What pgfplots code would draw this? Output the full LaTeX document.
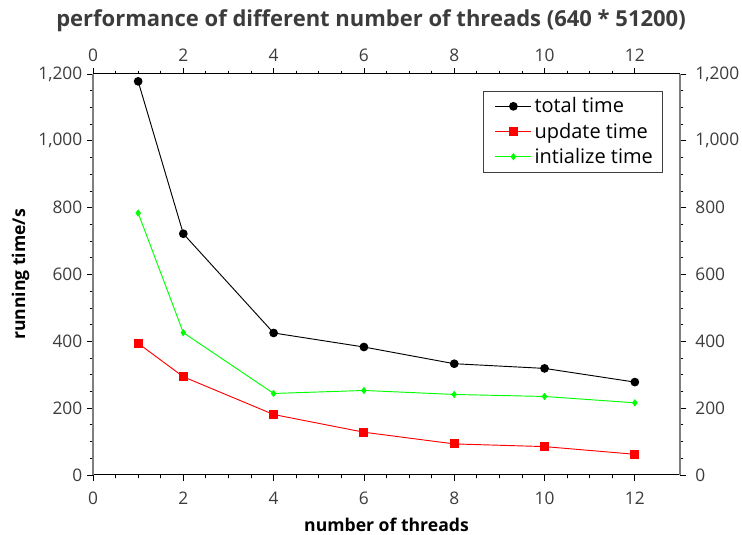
\documentclass[border=0pt]{standalone}
\usepackage{fontspec}
\setmainfont{Open Sans}
\usepackage{pgfplots}
\pgfplotsset{compat=1.18}
\definecolor{labelgray}{HTML}{3C3C3C}
\definecolor{framegray}{HTML}{7F7F7F}

\pgfplotsset{
  threadframe/.style={
    scale only axis, width=440.25pt, height=300.75pt,
    xmin=0, xmax=13, ymin=0, ymax=1200,
    xtick={0,2,...,12}, ytick={0,200,...,1200},
    minor x tick num=3, minor y tick num=3,
    tick align=outside, tick pos=both,
    major tick length=4.5pt, minor tick length=2.5pt,
    every tick/.style={black, line width=0.6pt},
    separate axis lines,
    x axis line style={black, line width=0.75pt},
    y axis line style={framegray, line width=1.5pt},
    /pgf/number format/.cd, 1000 sep={,}, assume math mode=true,
    /pgfplots/.cd,
    tick label style={font=\fontsize{13}{15}\selectfont, text=labelgray},
  },
}

\begin{document}
\begin{tikzpicture}
\useasboundingbox (-69.75pt,-45pt) rectangle (486.75pt,356.25pt);
% mirrored tick labels on the top and right sides
\begin{axis}[threadframe, xticklabel pos=upper, yticklabel pos=right,
  xticklabel style={yshift=1.5pt}, yticklabel style={xshift=3.5pt}]
\end{axis}
\begin{axis}[
  threadframe,
  xticklabel pos=lower, yticklabel pos=left,
  xticklabel style={yshift=-4.5pt},
  xlabel={number of threads},
  ylabel={running time/s},
  label style={font=\bfseries\fontsize{13.2}{15}\selectfont, text=black},
  xlabel style={yshift=-3pt},
  legend style={at={(1,1)}, anchor=north east, xshift=-13pt, yshift=-12.5pt,
    draw=black!75, line width=0.6pt, font=\fontsize{15}{17}\selectfont,
    inner xsep=5pt, inner ysep=3pt, row sep=2pt},
  legend cell align=left,
  legend image code/.code={\path (-4pt,0pt);
    \draw[mark repeat=2, mark phase=2]
    plot coordinates {(0pt,0pt) (13.5pt,0pt) (27pt,0pt)};},
]
\addplot[black, line width=0.7pt, mark=*, mark size=2.9pt]
  coordinates {(1,1178) (2,722) (4,425) (6,383) (8,333) (10,319) (12,278)};
\addlegendentry{total time}
\addplot[red, line width=0.7pt, mark=square*, mark size=3pt]
  coordinates {(1,394) (2,294) (4,181) (6,128) (8,93) (10,85) (12,62)};
\addlegendentry{update time}
\addplot[green, line width=0.7pt, mark=diamond*, mark size=2.2pt]
  coordinates {(1,784) (2,426) (4,244) (6,253) (8,241) (10,235) (12,216)};
\addlegendentry{intialize time}
\end{axis}
\node[font=\bfseries\fontsize{16.5}{19}\selectfont, text=labelgray]
  at (208.5pt,341pt) {performance of different number of threads (640 * 51200)};
\end{tikzpicture}
\end{document}
